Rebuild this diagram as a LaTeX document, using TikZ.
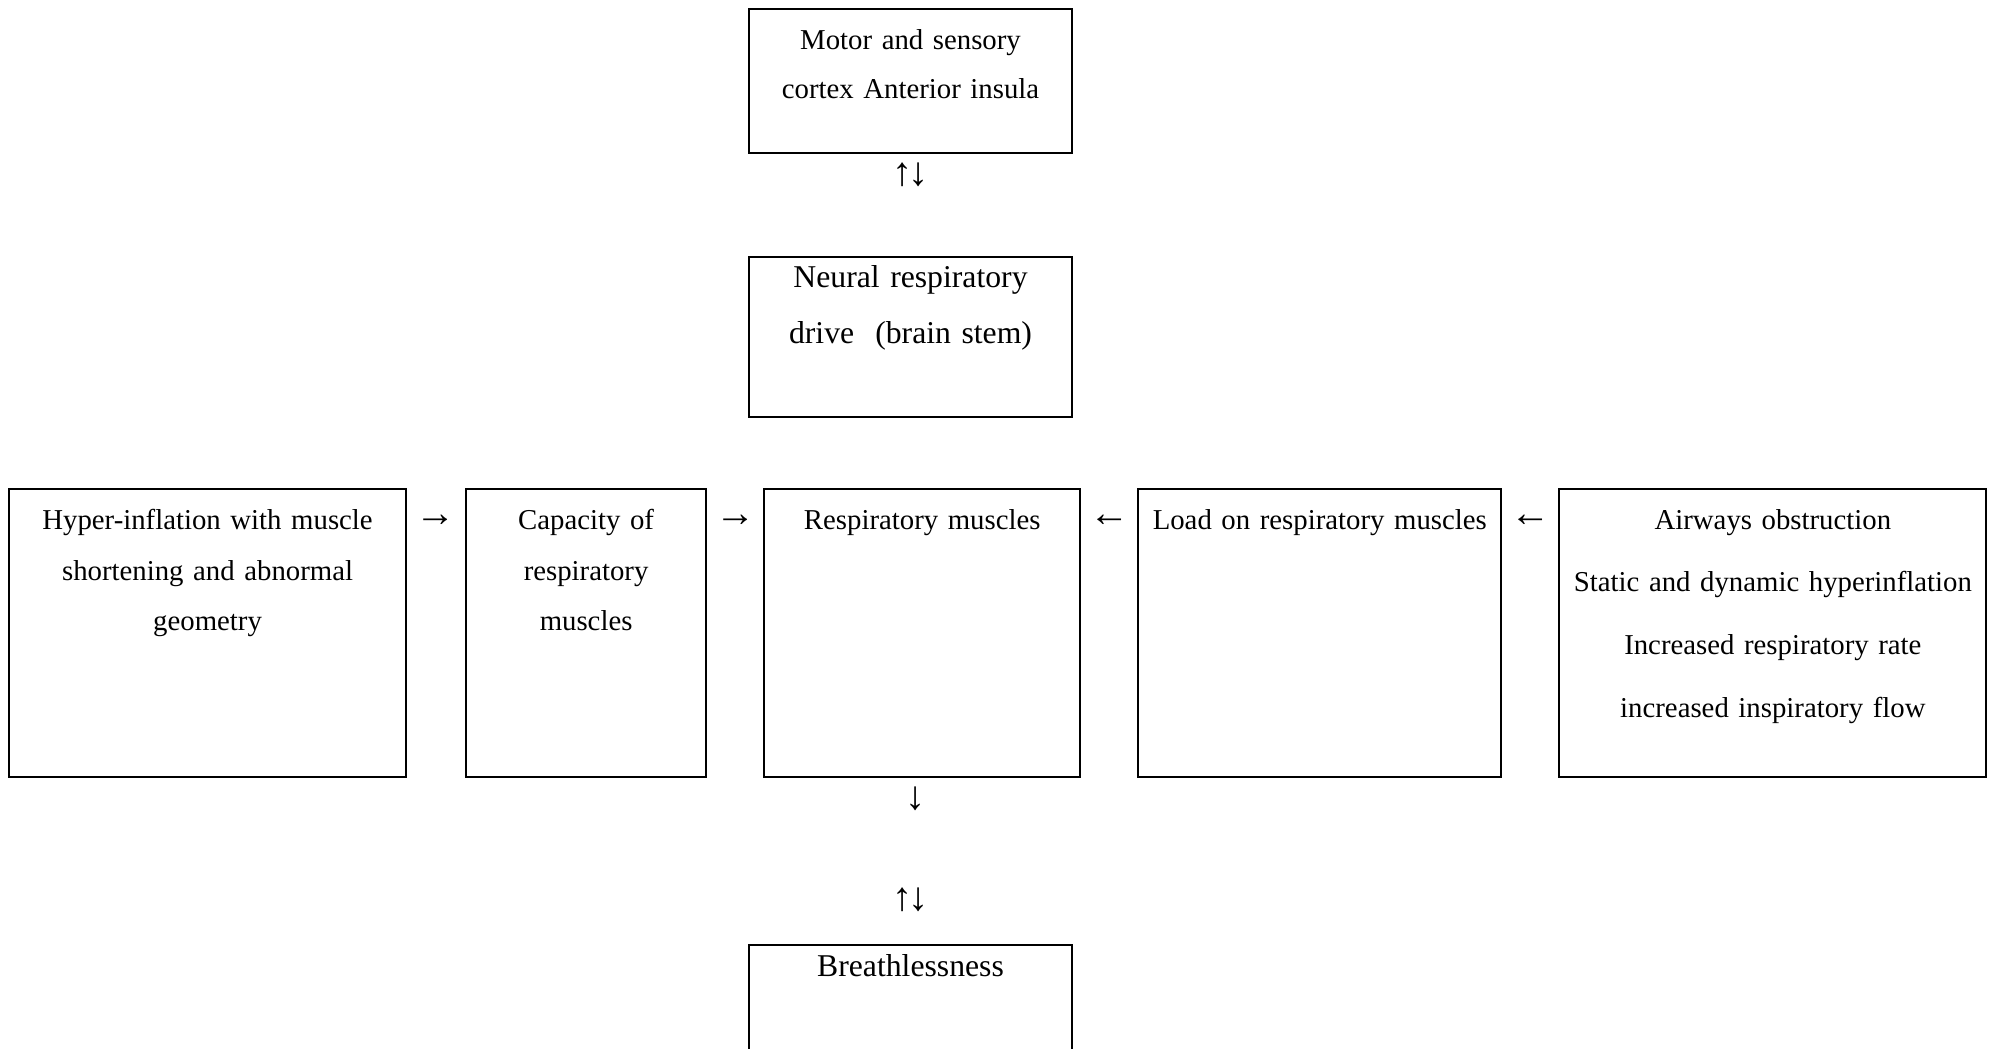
\documentclass[tikz,border=0pt]{standalone}
\usepackage{fontspec}
\setmainfont{Liberation Serif}
\usetikzlibrary{positioning, calc}

\begin{document}
\begin{tikzpicture}[
  every node/.style={font=\fontsize{11.8}{20.9}\selectfont},
  box/.style={draw, line width=0.8pt, inner sep=0pt, outer sep=0pt, align=center, anchor=north west, text height=16.4pt},
  bigbox/.style={box, font=\fontsize{13}{22.9}\selectfont},
  glyph/.style={inner sep=0pt, font=\fontsize{16.5}{16.5}\selectfont}
]
\useasboundingbox (0,0) rectangle (817.1pt,-429.7pt);
% top column
\node[box, text width=132.4pt, text depth=42.6pt, font=\fontsize{11.8}{20.3}\selectfont] (motor) at (307.1pt,-3.7pt) {Motor and sensory\\cortex Anterior insula};
\node[bigbox, text width=132.4pt, text height=12.7pt, text depth=52.9pt, below=42.6pt of motor] (neural) {Neural respiratory\\drive~~(brain stem)};
% middle row
\node[box, text width=162.8pt, text depth=101.7pt] (hyper) at (3.7pt,-200.5pt) {Hyper-inflation with muscle\\shortening and abnormal\\geometry};
\node[box, text width=98.4pt, text depth=101.7pt, right=24.6pt of hyper] (cap) {Capacity of\\respiratory\\muscles};
\node[box, text width=129.6pt, text depth=101.7pt, right=23.8pt of cap] (resp) {Respiratory muscles};
\node[box, text width=148.8pt, text depth=101.7pt, right=23.8pt of resp] (load) {Load on respiratory muscles};
\node[box, text width=175.1pt, text depth=101.7pt, right=23.8pt of load, font=\fontsize{11.8}{25.8}\selectfont] (air) {Airways obstruction\\Static and dynamic hyperinflation\\Increased respiratory rate\\increased inspiratory flow};
% bottom
\node[bigbox, text width=132.4pt, text height=12.9pt, text depth=52.7pt, below=216.5pt of neural] (breath) {Breathlessness};
% arrows
\node[glyph] (ud1) at ([yshift=-9pt]motor.south) {↑\kern-2pt↓};
\node[glyph] (r1) at ($(hyper.north east)!0.5!(cap.north west)+(0,-13.1pt)$) {→};
\node[glyph] (r2) at ($(cap.north east)!0.5!(resp.north west)+(0,-13.1pt)$) {→};
\node[glyph] (l1) at ($(resp.north east)!0.5!(load.north west)+(0,-13.1pt)$) {←};
\node[glyph] (l2) at ($(load.north east)!0.5!(air.north west)+(0,-13.1pt)$) {←};
\node[glyph] (d1) at ([xshift=-2.9pt, yshift=-9pt]resp.south) {↓};
\node[glyph] (ud2) at ([yshift=18.5pt]breath.north) {↑\kern-2pt↓};
\end{tikzpicture}
\end{document}
